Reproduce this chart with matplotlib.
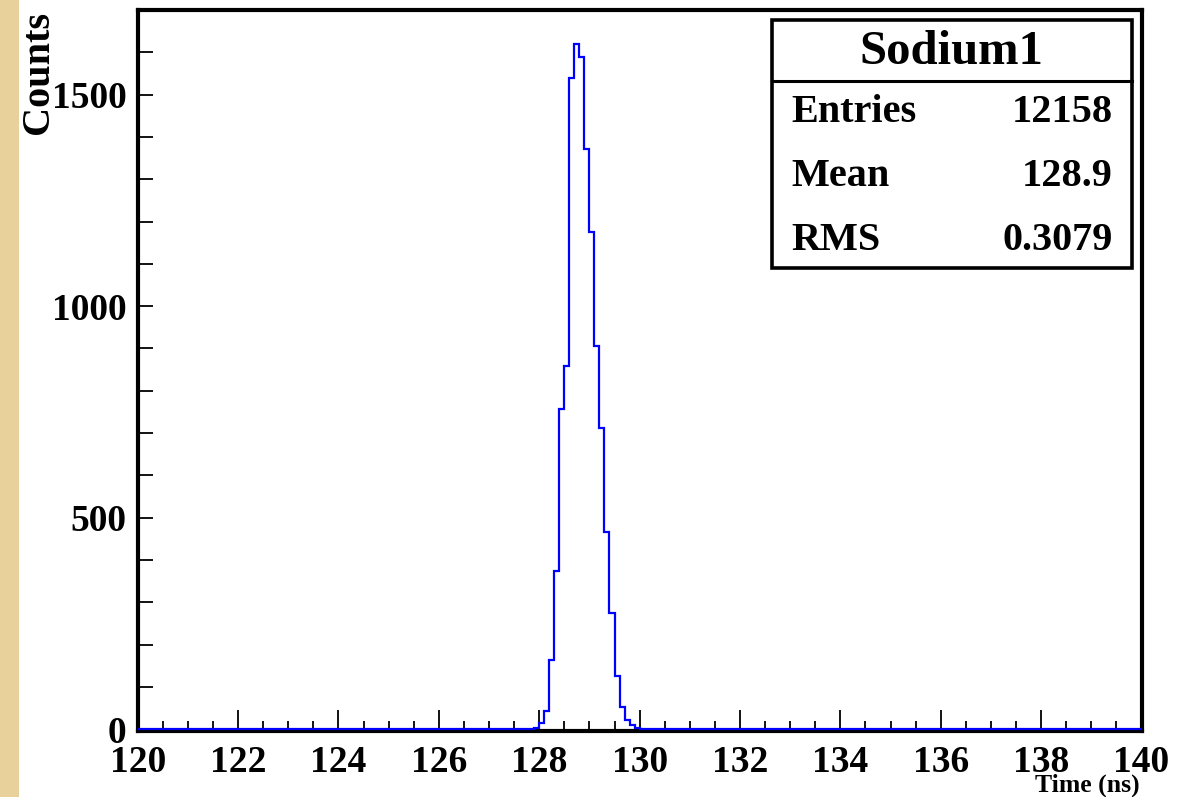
import numpy as np
import matplotlib
matplotlib.use("Agg")
import matplotlib.pyplot as plt
from matplotlib.patches import Rectangle
from matplotlib.ticker import MultipleLocator

# Histogram binning: 200 bins of 0.1 ns between 120 and 140 ns
x_min, x_max, bin_width = 120.0, 140.0, 0.1

# Non-empty bins (lower edge in ns) and their counts
bin_low = [127.9, 128.0, 128.1, 128.2, 128.3, 128.4, 128.5, 128.6, 128.7, 128.8,
           128.9, 129.0, 129.1, 129.2, 129.3, 129.4, 129.5, 129.6, 129.7, 129.8,
           129.9]
counts = [3, 14, 43, 163, 373, 757, 858, 1538, 1620, 1589,
          1372, 1175, 905, 711, 466, 276, 126, 53, 21, 11,
          2]

# Statistics box contents
hist_name = "Sodium1"
stat_names = ["Entries", "Mean", "RMS"]
stat_values = ["12158", "128.9", "0.3079"]

x_ticks = [120, 122, 124, 126, 128, 130, 132, 134, 136, 138, 140]
y_ticks = [0, 500, 1000, 1500]

n_bins = int(round((x_max - x_min) / bin_width))
edges = x_min + bin_width * np.arange(n_bins + 1)
full_counts = np.zeros(n_bins)
for lo, c in zip(bin_low, counts):
    full_counts[int(round((lo - x_min) / bin_width))] = c

plt.rcParams["font.family"] = ["Liberation Serif", "DejaVu Serif"]
plt.rcParams["font.weight"] = "bold"

W, H = 1178, 797
fig = plt.figure(figsize=(W / 100, H / 100), dpi=100)
fig.patch.set_facecolor("white")

# parchment strip on the left edge
fig.patches.append(Rectangle((0, 0), 19 / W, 1, transform=fig.transFigure,
                             facecolor="#e8d19a", edgecolor="none", zorder=0))

ax_l, ax_r, ax_b, ax_t = 137.7, 1141.5, 731.0, 9.5
ax = fig.add_axes([ax_l / W, 1 - ax_b / H, (ax_r - ax_l) / W, (ax_b - ax_t) / H])

ax.stairs(full_counts, edges, color="#0000ff", linewidth=1.6, zorder=5)
ax.set_xlim(x_min, x_max)
ax.set_ylim(-4, 1.05 * max(counts))

for s in ax.spines.values():
    s.set_linewidth(3.0)
    s.set_color("black")
    s.set_zorder(4)

ax.set_xticks(x_ticks)
ax.set_xticklabels([str(t) for t in x_ticks])
ax.xaxis.set_minor_locator(MultipleLocator(0.5))
ax.set_yticks(y_ticks)
ax.set_yticklabels([str(t) for t in y_ticks])
ax.yaxis.set_minor_locator(MultipleLocator(100))

ax.tick_params(axis="x", which="major", direction="in", length=15, width=1.3,
               pad=10, labelsize=27, top=False)
ax.tick_params(axis="x", which="minor", direction="in", length=7, width=1.3, top=False)
ax.tick_params(axis="y", which="major", direction="in", length=11, width=1.3,
               pad=8, labelsize=27, right=False)
ax.tick_params(axis="y", which="minor", direction="in", length=11, width=1.3, right=False)
for lab in ax.get_xticklabels() + ax.get_yticklabels():
    lab.set_fontweight("bold")

# axis titles
fig.text(38.5 / W, 1 - 72.5 / H, "Counts", rotation=90, ha="center", va="center",
         fontsize=29, fontweight="bold")
fig.text(1140 / W, 1 - 785 / H, "Time (ns)", ha="right", va="center",
         fontsize=18.5, fontweight="bold")

# statistics box
bx0, bx1 = (771.7 - ax_l) / (ax_r - ax_l), (1131.7 - ax_l) / (ax_r - ax_l)
def yfrac(py):
    return (ax_b - py) / (ax_b - ax_t)
by0, by1 = yfrac(268), yfrac(20)
ax.add_patch(Rectangle((bx0, by0), bx1 - bx0, by1 - by0, transform=ax.transAxes,
                       facecolor="white", edgecolor="black", linewidth=2.6,
                       zorder=6, clip_on=False))
ysep = yfrac(80.7)
ax.plot([bx0, bx1], [ysep, ysep], transform=ax.transAxes, color="black",
        linewidth=2.2, zorder=7, clip_on=False)
ax.text((bx0 + bx1) / 2, yfrac(52), hist_name, transform=ax.transAxes,
        ha="center", va="center", fontsize=35, fontweight="bold", zorder=8)
row_y = [113, 177, 240]
xl = (791.7 - ax_l) / (ax_r - ax_l)
xr = (1112.7 - ax_l) / (ax_r - ax_l)
for name, val, py in zip(stat_names, stat_values, row_y):
    ax.text(xl, yfrac(py), name, transform=ax.transAxes, ha="left", va="center",
            fontsize=29, fontweight="bold", zorder=8)
    ax.text(xr, yfrac(py), val, transform=ax.transAxes, ha="right", va="center",
            fontsize=29, fontweight="bold", zorder=8)

fig.savefig("out.png", dpi=100)
